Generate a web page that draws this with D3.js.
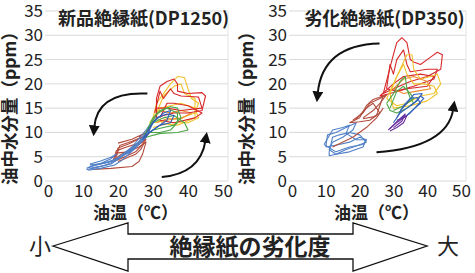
<!DOCTYPE html>
<html>
<head>
<meta charset="utf-8">
<script src="https://cdn.jsdelivr.net/npm/d3@7"></script>
<style>
  body { margin: 0; background: #fff; }
  text { font-family: "Noto Sans CJK JP", "Noto Sans", sans-serif; fill: #222; }
</style>
</head>
<body>
<svg width="475" height="273"></svg>
<script>
// axis ticks
const xTicks = [0, 10, 20, 30, 40, 50]
const yTicks = [0, 5, 10, 15, 20, 25, 30, 35]

// --- new paper (DP1250): loops of [oil temp, ppm] ---
const newLtBlue = [
  [[11,2.3],[14,2.8],[18,3.5],[20,4.5],[24,6.5],[27,8.5],[29,10],[28,9.5],[25,7.5],[21,5.0],[18,4.0],[13,3.2],[11,2.6]],
  [[12,2.6],[16,3.2],[19,4.0],[22,5.5],[26,8.0],[29,11],[30,12.5],[28,10.5],[24,7.0],[20,4.8],[17,3.8],[12,3.0]],
  [[11.5,2.2],[15,2.6],[19,3.3],[21,4.2],[25,6.8],[28,9],[27,8.2],[23,5.8],[19,4.3],[14,3.4],[11.5,2.8]],
  [[12,3.3],[15,3.6],[18,4.6],[19.5,5.5],[18,4.9],[15,4.1],[12,3.5]]
]
const newBrown = [
  [[19,4.5],[20,6.8],[23,7.6],[27,9.0],[29,10],[27,8.0],[24,6.5],[21,5.5],[19,4.5]],
  [[19.5,5],[20.5,7.3],[24,8.2],[28,9.4],[27,7.5],[25,6],[22,5.0],[19.5,4.2]],
  [[18.5,4],[19.5,6.2],[22,6.9],[26,7.8],[28,8.6],[26.5,6.5],[25,5.5],[20,4.0]],
  [[13,2.4],[18,2.6],[24,3.0],[26,4.0],[27,5.5],[28,8],[26,7],[23,6],[20,5.8],[19,5]],
  [[20,7.8],[24,8.6],[27,9.6],[29,10.5],[26,9]]
]
const newGreen = [
  [[28,10],[30,13],[32,14.5],[35,15.3],[37,15],[38,13],[36,11.5],[33,11],[30,10.5],[28,9.5]],
  [[29,11],[31,13.8],[34,15],[37,14],[37,12],[35,10.5],[32,10],[29,10]],
  [[27.5,9.5],[30,12],[33,13],[36,13.5],[39,12],[40,10.5],[37,10],[32,9.8],[28,9]]
]
const newBlue = [
  [[27,8.5],[29,11],[31,13],[34,13.8],[36,13.5],[35,12],[32,11.5],[29,10],[27,8.5]],
  [[28,9],[30,12],[33,14],[35,14.5],[34,12.5],[31,11],[28,9.5]]
]
const newYellow = [
  [[30,13],[31,16],[33,18],[35,20],[37,21.5],[39,21.3],[40,19],[41,17],[43,16],[42,14],[38,13],[34,12.5],[30,12]],
  [[31,14],[33,17.5],[36,19.5],[38,20],[39,18],[42,17],[42,13],[37,11.5],[33,11.8],[31,13]],
  [[29,12],[32,15],[35,15.5],[38,16],[42,15],[43,13],[40,12],[35,12],[30,11]]
]
const newOrange = [
  [[30,12.5],[32,14.5],[35,14],[38,14.5],[41,14],[38,12.8],[34,12.8],[31,12]]
]
const newRed = [
  [[31,13],[31,17],[32,19.5],[34,20.5],[36,21],[37,20],[37,18.5],[40,18],[44,18.2],[45,17.5],[44,14.5],[40,14],[36,14],[33,13.5],[31,13]],
  [[30.5,14],[32,18.5],[33,17],[35,19],[36,18],[38,17.5],[43,17.3],[44,15],[38,14.5],[34,15],[31,15]],
  [[32,13],[34,16],[36,16],[40,15.5],[44,14],[42,13],[36,12],[32,12.5]]
]

// --- aged paper (DP350) ---
const oldLtBlue = [
  [[10,7],[10.5,9.5],[13,10],[16,11],[19,12],[18,10.5],[15,9],[12,8],[11,6.5],[13,5.5],[17,6],[21,7],[22,8.5],[20,9],[17,8],[14,7.5],[10,7]],
  [[11,6],[12,9],[14,9.5],[17,10],[20,9.5],[22,8],[19,7.2],[16,6.5],[13,5.5],[11,5.2],[11,6]],
  [[9.5,7.5],[12,10.5],[15,11],[17,11.5],[16,9.8],[19,8.5],[22,8.5],[21,7.5],[17,7],[13,6],[9.5,7.5]]
]
const oldBrown = [
  [[17,12],[20,13],[22,15.5],[24,16.8],[27,17.5],[26,15.5],[25,13.5],[23,12.5],[20,12.2],[17,12]],
  [[18,12.5],[21,14],[23,16],[26,17],[28,17.8],[26,16],[24,14.5],[21,13]],
  [[19,12.8],[22,15],[24,16],[25,15],[26,14],[24,13.2],[21,12.8]],
  [[12,7],[18,9],[22,11],[25,13],[27,15]]
]
const oldRed = [
  [[27,18],[28.5,22],[30,26],[31,28.5],[32.5,29.5],[34,28.5],[35,25],[36,24.5],[38,24],[41,25.5],[43,26.5],[44.5,26],[44,23],[40,21.5],[35,20.5],[30,19],[27,18]],
  [[28,19],[29,24],[30,22],[31,25],[33,27],[34,24],[35,22.5],[40,23],[43,23],[42,21],[36,19.5],[31,18.5],[28,19]],
  [[26,17.5],[30,20],[33,21.5],[38,22],[42,21.5],[40,19.5],[34,19],[29,18],[26,17.5]]
]
const oldYellow = [
  [[28,17],[30,20],[32,23],[34,26],[35.5,26],[36,23],[38,21],[41,21.5],[43,22],[44,20],[42,18],[38,17.5],[34,16],[31,15.5],[28,17]],
  [[29,18],[31,21.5],[33,24],[34,22],[36,20],[39,20],[42,19.5],[43,18],[40,16.5],[35,15.5],[30,15],[29,18]]
]
const oldOrange = [
  [[30,19],[33,21],[36,21.5],[40,20.5],[41,19],[37,18.5],[33,18],[30,19]]
]
const oldGreen = [
  [[28,16],[30,18],[32,20.5],[33.5,21.5],[34,19],[35,17],[36,16],[34,15],[31,14],[29,14.5],[28,16]],
  [[29,15],[31,18.5],[33,19.5],[35,18],[36,17],[33,15.5],[30,14.5]]
]
const oldBlue = [
  [[30,12],[32,14],[34,15],[36,16],[38,17.5],[39,17],[37,15.5],[35,14],[33,13],[31,12.5]],
  [[31,13],[33,15.5],[35,17],[37,17.2],[38,16],[36,14.8],[34,13.5],[32,12.8]],
  [[32,14.5],[34,16],[36,17.8],[38.5,18],[37,16.5],[35,15.5]]
]
const oldPurple = [
  [[28.5,10.5],[30,11.5],[32,12.5],[34,13.5],[33,12],[31,11],[29,10.3]],
  [[29,10.8],[31,12.2],[33.5,13.8],[32.5,12.3],[30,11]]
]

const colors = {
  ltBlue: '#5180c6', brown: '#b34b3c', red: '#d8282a', yellow: '#efc32c',
  orange: '#ee8a2a', green: '#4ba546', blue: '#2f5fb8', purple: '#6b2f9f'
}

const svg = d3.select('svg')

// arrowhead marker
svg.append('defs').append('marker')
  .attr('id', 'head')
  .attr('viewBox', '0 0 10 10')
  .attr('refX', 2).attr('refY', 5)
  .attr('markerWidth', 5.5).attr('markerHeight', 5.5)
  .attr('orient', 'auto')
  .append('path').attr('d', 'M0,0L10,5L0,10z').attr('fill', '#111')

const drawPanel = (left, right, title, series, arrows, yTitleX) => {
  const x = d3.scaleLinear().domain([0, 50]).range([left, right])
  const y = d3.scaleLinear().domain([0, 35]).range([181, 11])
  const g = svg.append('g')

  // gridlines
  g.selectAll('line.grid')
    .data(yTicks)
    .join('line')
    .attr('x1', x(0) - 3).attr('x2', x(50) + 5)
    .attr('y1', d => y(d)).attr('y2', d => y(d))
    .attr('stroke', '#d9d9d9').attr('stroke-width', 1)
  g.append('line')
    .attr('x1', x(50) + 5).attr('x2', x(50) + 5)
    .attr('y1', y(35)).attr('y2', y(0))
    .attr('stroke', '#e3e3e3')

  // axes
  const yAxis = g.append('g')
    .attr('transform', `translate(${x(0) - 5},0)`)
    .call(d3.axisLeft(y).tickValues(yTicks).tickSize(0).tickPadding(0))
  const xAxis = g.append('g')
    .attr('transform', `translate(0,${y(0) + 4})`)
    .call(d3.axisBottom(x).tickValues(xTicks).tickSize(0).tickPadding(0))
  ;[xAxis, yAxis].forEach(a => {
    a.select('.domain').remove()
    a.selectAll('text').style('font-size', '17px').style('font-family', '"Noto Sans CJK JP", sans-serif').attr('fill', '#222')
  })

  // loops
  const line = d3.line().x(d => x(d[0])).y(d => y(d[1]))
  series.forEach(s => {
    g.append('g').selectAll('path')
      .data(s.loops)
      .join('path')
      .attr('d', line)
      .attr('fill', 'none')
      .attr('stroke', s.color)
      .attr('stroke-width', 1.1)
      .attr('stroke-linejoin', 'round')
  })

  // title
  g.append('text')
    .attr('x', (x(0) + x(50)) / 2 + 8).attr('y', 25)
    .attr('text-anchor', 'middle')
    .style('font-size', '18px').style('font-weight', 'bold')
    .text(title)

  // axis titles
  g.append('text')
    .attr('transform', `translate(${yTitleX},${(y(0) + y(35)) / 2 + 8}) rotate(-90)`)
    .attr('text-anchor', 'middle')
    .style('font-size', '17.5px').style('font-weight', 'bold')
    .text('油中水分量（ppm）')
  g.append('text')
    .attr('x', (x(0) + x(50)) / 2).attr('y', 219)
    .attr('text-anchor', 'middle')
    .style('font-size', '17px').style('font-weight', 'bold')
    .text('油温（℃）')

  // curved arrows (given in data coords)
  arrows.forEach(a => {
    const p = d3.path()
    p.moveTo(x(a[0][0]), y(a[0][1]))
    p.quadraticCurveTo(x(a[1][0]), y(a[1][1]), x(a[2][0]), y(a[2][1]))
    g.append('path').attr('d', p.toString())
      .attr('fill', 'none').attr('stroke', '#111').attr('stroke-width', 2)
      .attr('marker-end', 'url(#head)')
  })
}

drawPanel(48, 223, '新品絶縁紙(DP1250)', [
  { color: colors.brown, loops: newBrown },
  { color: colors.ltBlue, loops: newLtBlue },
  { color: colors.yellow, loops: newYellow },
  { color: colors.orange, loops: newOrange },
  { color: colors.red, loops: newRed },
  { color: colors.green, loops: newGreen },
  { color: colors.blue, loops: newBlue }
], [
  [[28.4, 18], [14, 18.5], [13.2, 11]],
  [[32.5, 0.8], [43.5, 1.5], [45, 8.3]]
], 16)

drawPanel(292, 461, '劣化絶縁紙(DP350)', [
  { color: colors.ltBlue, loops: oldLtBlue },
  { color: colors.brown, loops: oldBrown },
  { color: colors.red, loops: oldRed },
  { color: colors.yellow, loops: oldYellow },
  { color: colors.orange, loops: oldOrange },
  { color: colors.green, loops: oldGreen },
  { color: colors.blue, loops: oldBlue },
  { color: colors.purple, loops: oldPurple }
], [
  [[25.9, 28.3], [9, 28], [7.6, 18]],
  [[25, 5.9], [46, 7], [47.7, 14.8]]
], 253)

// bottom double arrow
const arrowPts = [[53,246],[128,223],[128,234],[353,234],[353,223],[427,246],[353,271],[353,259],[128,259],[128,271]]
svg.append('path')
  .attr('d', d3.line()(arrowPts) + 'Z')
  .attr('fill', '#fff').attr('stroke', '#111').attr('stroke-width', 1.3)
svg.append('text').attr('x', 40).attr('y', 254).attr('text-anchor', 'middle')
  .style('font-size', '22px').text('小')
svg.append('text').attr('x', 448).attr('y', 254).attr('text-anchor', 'middle')
  .style('font-size', '22px').text('大')
svg.append('text').attr('x', 250).attr('y', 255).attr('text-anchor', 'middle')
  .style('font-size', '23px').style('font-weight', 'bold').text('絶縁紙の劣化度')
</script>
</body>
</html>
